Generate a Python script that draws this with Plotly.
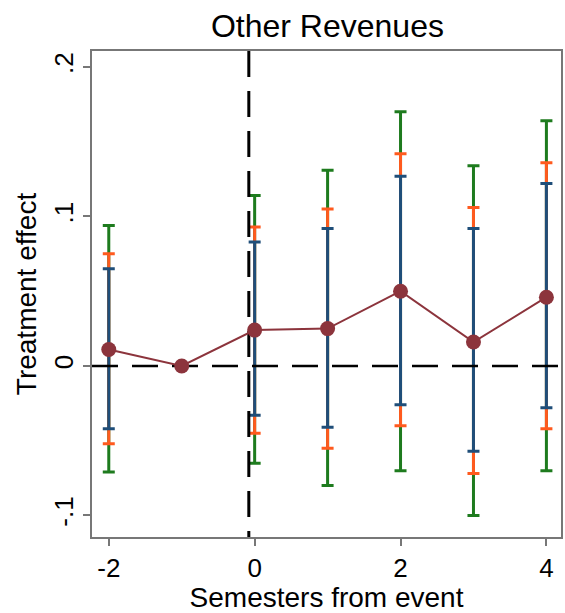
import plotly.graph_objects as go

# ---- data ----
periods = [-2, -1, 0, 1, 2, 3, 4]
coef = [0.011, 0.0, 0.024, 0.025, 0.050, 0.016, 0.046]
ci_blue_hi = [0.065, None, 0.083, 0.092, 0.127, 0.092, 0.122]
ci_blue_lo = [-0.042, None, -0.033, -0.041, -0.026, -0.057, -0.028]
ci_orange_hi = [0.075, None, 0.093, 0.105, 0.142, 0.106, 0.136]
ci_orange_lo = [-0.052, None, -0.045, -0.055, -0.040, -0.072, -0.042]
ci_green_hi = [0.094, None, 0.114, 0.131, 0.170, 0.134, 0.164]
ci_green_lo = [-0.071, None, -0.065, -0.080, -0.070, -0.100, -0.070]

x_ticks = [-2, 0, 2, 4]
x_ticklabels = ["-2", "0", "2", "4"]
y_ticks = [-0.1, 0, 0.1, 0.2]
y_ticklabels = ["-.1", "0", ".1", ".2"]

event_line_x = -0.08
zero_line_y = 0.0
x_range = [-2.23, 4.2]
y_range = [-0.1144, 0.2107]

GREEN = "#1e7b1e"
ORANGE = "#ff5a1e"
BLUE = "#1f4e79"
MAROON = "#8c343c"
FONT = "Liberation Sans, Arial, sans-serif"

fig = go.Figure()


def add_ci(hi, lo, color):
    xs, ys, up, dn = [], [], [], []
    for p, c, h, l in zip(periods, coef, hi, lo):
        if h is None:
            continue
        xs.append(p)
        ys.append(c)
        up.append(h - c)
        dn.append(c - l)
    fig.add_trace(go.Scatter(
        x=xs, y=ys, mode="markers",
        marker=dict(size=1, color="rgba(0,0,0,0)"),
        error_y=dict(type="data", symmetric=False, array=up, arrayminus=dn,
                     color=color, thickness=3, width=6),
        showlegend=False, hoverinfo="skip"))


add_ci(ci_green_hi, ci_green_lo, GREEN)
add_ci(ci_orange_hi, ci_orange_lo, ORANGE)
add_ci(ci_blue_hi, ci_blue_lo, BLUE)

# reference lines
fig.add_trace(go.Scatter(x=x_range, y=[zero_line_y, zero_line_y], mode="lines",
                         line=dict(color="black", width=2.5, dash="26px,14px"),
                         showlegend=False, hoverinfo="skip"))
fig.add_trace(go.Scatter(x=[event_line_x, event_line_x], y=[y_range[1], y_range[0]], mode="lines",
                         line=dict(color="black", width=3, dash="26px,14px"),
                         showlegend=False, hoverinfo="skip"))

# coefficients
fig.add_trace(go.Scatter(x=periods, y=coef, mode="lines+markers",
                         line=dict(color=MAROON, width=2),
                         marker=dict(color=MAROON, size=15),
                         showlegend=False))

fig.update_layout(
    width=565, height=613,
    margin=dict(l=92, r=2, t=51, b=76),
    paper_bgcolor="white", plot_bgcolor="white",
    font=dict(family=FONT, color="black"),
    title=dict(text="Other Revenues", x=0.5795, xanchor="center",
               y=0.9584, yanchor="middle", font=dict(size=32, family=FONT)),
)
fig.update_xaxes(
    range=x_range, tickvals=x_ticks, ticktext=x_ticklabels,
    showgrid=False, zeroline=False,
    showline=True, linecolor="#777777", linewidth=2, mirror=True,
    ticks="outside", ticklen=7, tickwidth=2, tickcolor="#777777",
    tickfont=dict(size=26, family=FONT),
    title=dict(text="Semesters from event", font=dict(size=28, family=FONT), standoff=4),
)
fig.update_yaxes(
    range=y_range, tickvals=y_ticks, ticktext=y_ticklabels, tickangle=-90,
    showgrid=False, zeroline=False,
    showline=True, linecolor="#777777", linewidth=2, mirror=True,
    ticks="outside", ticklen=7, tickwidth=2, tickcolor="#777777",
    tickfont=dict(size=26, family=FONT),
    title=dict(text="Treatment effect", font=dict(size=28, family=FONT), standoff=4),
)

fig.write_html("out.html")
